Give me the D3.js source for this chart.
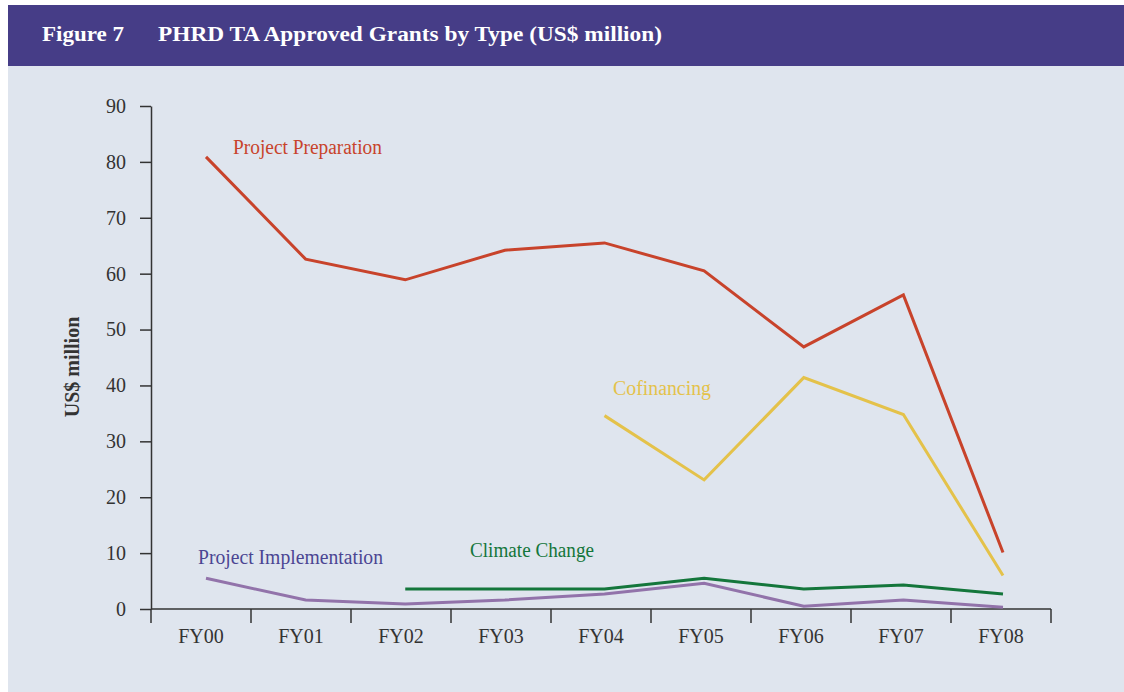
<!DOCTYPE html>
<html>
<head>
<meta charset="utf-8">
<script src="https://cdn.jsdelivr.net/npm/d3@7"></script>
<style>
    body { margin: 0; background: #ffffff; }
    svg text { font-family: "Liberation Serif", "DejaVu Serif", serif; }
    .tick text { font-size: 20px; fill: #333333; }
    .axis path, .axis line { stroke: #333333; stroke-width: 1.5px; }
</style>
</head>
<body>
<svg width="1124" height="692"></svg>
<script>
const categories = ['FY00', 'FY01', 'FY02', 'FY03', 'FY04', 'FY05', 'FY06', 'FY07', 'FY08'];
const projectPreparation = [80.9, 62.6, 58.9, 64.2, 65.5, 60.5, 46.9, 56.2, 10.1];
const cofinancing = [null, null, null, null, 34.6, 23.1, 41.4, 34.8, 6.0];
const climateChange = [null, null, 3.6, 3.6, 3.6, 5.5, 3.6, 4.3, 2.7];
const projectImplementation = [5.5, 1.6, 0.9, 1.6, 2.7, 4.6, 0.5, 1.6, 0.3];
const yTicks = [0, 10, 20, 30, 40, 50, 60, 70, 80, 90];

const svg = d3.select('svg');

// frame: purple title band and light panel
svg.append('rect').attr('x', 8).attr('y', 5).attr('width', 1116).attr('height', 61).attr('fill', '#463d87');
svg.append('rect').attr('x', 8).attr('y', 66).attr('width', 1116).attr('height', 626).attr('fill', '#dfe5ee');

svg.append('text')
    .attr('x', 42).attr('y', 41)
    .attr('fill', '#ffffff').attr('font-weight', 'bold').attr('font-size', 21)
    .attr('textLength', 82).attr('lengthAdjust', 'spacingAndGlyphs')
    .text('Figure 7');
svg.append('text')
    .attr('x', 158).attr('y', 41)
    .attr('fill', '#ffffff').attr('font-weight', 'bold').attr('font-size', 21)
    .attr('textLength', 504).attr('lengthAdjust', 'spacingAndGlyphs')
    .text('PHRD TA Approved Grants by Type (US$ million)');

// scales
const xBand = d3.scaleBand().domain(categories).range([151, 1051]);
const xPoint = d3.scalePoint().domain(categories).range([206, 1003]);
const yScale = d3.scaleLinear().domain([0, 90]).range([609, 106]);

// y axis
const yAxisG = svg.append('g')
    .attr('class', 'axis')
    .attr('transform', 'translate(151,0)')
    .call(d3.axisLeft(yScale).tickValues(yTicks).tickSize(11).tickSizeOuter(0).tickPadding(14));

// x axis: labels under band centres, ticks at band edges
const xAxisG = svg.append('g')
    .attr('class', 'axis')
    .attr('transform', 'translate(0,609)')
    .call(d3.axisBottom(xBand).tickSize(0).tickSizeOuter(0).tickPadding(20));
xAxisG.select('.domain').remove();
xAxisG.append('line')
    .attr('x1', xBand(categories[0])).attr('x2', xBand(categories[categories.length - 1]) + xBand.bandwidth())
    .attr('stroke', '#333333').attr('stroke-width', 1.5);
const edges = categories.map(d => xBand(d)).concat([xBand(categories[categories.length - 1]) + xBand.bandwidth()]);
xAxisG.selectAll('.edge').data(edges)
    .enter().append('line').attr('class', 'edge')
    .attr('x1', d => d).attr('x2', d => d)
    .attr('y1', 0).attr('y2', 14)
    .attr('stroke', '#333333').attr('stroke-width', 1.5);

svg.append('text')
    .attr('transform', 'translate(79,367) rotate(-90)')
    .attr('text-anchor', 'middle')
    .attr('font-weight', 'bold').attr('font-size', 20).attr('fill', '#333333')
    .text('US$ million');

// series
const series = [
    { name: 'Project Preparation', values: projectPreparation, color: '#c8432b', text: '#c8432b', lx: 233, ly: 154, lw: 149 },
    { name: 'Cofinancing', values: cofinancing, color: '#e4c24a', text: '#e4c24a', lx: 613, ly: 395, lw: 98 },
    { name: 'Climate Change', values: climateChange, color: '#14763b', text: '#14763b', lx: 470, ly: 557, lw: 124 },
    { name: 'Project Implementation', values: projectImplementation, color: '#9273aa', text: '#4b4593', lx: 198, ly: 564, lw: 185 }
];

const line = d3.line()
    .defined(d => d.v !== null)
    .x(d => xPoint(d.c))
    .y(d => yScale(d.v));

series.forEach(s => {
    const pts = categories.map((c, i) => ({ c: c, v: s.values[i] }));
    svg.append('path')
        .datum(pts)
        .attr('fill', 'none')
        .attr('stroke', s.color)
        .attr('stroke-width', 3)
        .attr('d', line);
    svg.append('text')
        .attr('x', s.lx).attr('y', s.ly)
        .attr('fill', s.text).attr('font-size', 20)
        .attr('textLength', s.lw).attr('lengthAdjust', 'spacingAndGlyphs')
        .text(s.name);
});
</script>
</body>
</html>
